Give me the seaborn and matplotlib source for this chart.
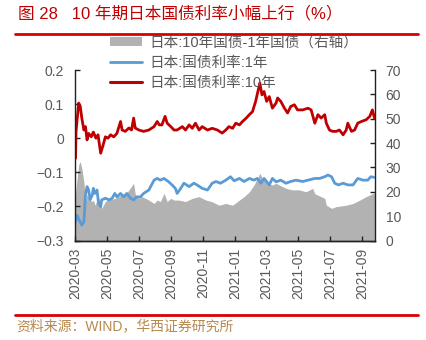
import matplotlib
matplotlib.use("Agg")
import matplotlib.pyplot as plt
import matplotlib.dates as mdates
from matplotlib.patches import Patch
from matplotlib.lines import Line2D
import pandas as pd
import seaborn as sns

# ---------------- data ----------------
title = "图 28   10 年期日本国债利率小幅上行（%）"
source = "资料来源：WIND，华西证券研究所"
labels = ["日本:10年国债-1年国债（右轴）", "日本:国债利率:1年", "日本:国债利率:10年"]

red_dates = ["2020-03-02", "2020-03-03", "2020-03-08", "2020-03-11", "2020-03-14", "2020-03-18",
             "2020-03-21", "2020-03-24", "2020-03-27", "2020-04-01", "2020-04-05", "2020-04-10",
             "2020-04-14", "2020-04-19", "2020-04-23", "2020-04-28", "2020-05-03", "2020-05-08",
             "2020-05-14", "2020-05-20", "2020-05-27", "2020-05-30", "2020-06-05", "2020-06-12",
             "2020-06-17", "2020-06-21", "2020-06-24", "2020-07-01", "2020-07-10", "2020-07-20",
             "2020-07-30", "2020-08-05", "2020-08-09", "2020-08-14", "2020-08-20", "2020-08-24",
             "2020-08-31", "2020-09-06", "2020-09-12", "2020-09-22", "2020-09-28", "2020-10-05",
             "2020-10-11", "2020-10-17", "2020-10-24", "2020-10-30", "2020-11-09", "2020-11-18",
             "2020-11-28", "2020-12-07", "2020-12-14", "2020-12-20", "2020-12-27", "2021-01-02",
             "2021-01-09", "2021-01-15", "2021-01-22", "2021-01-28", "2021-02-03", "2021-02-09",
             "2021-02-17", "2021-02-21", "2021-02-25", "2021-03-02", "2021-03-07", "2021-03-13",
             "2021-03-20", "2021-03-23", "2021-03-29", "2021-04-05", "2021-04-11", "2021-04-17",
             "2021-04-24", "2021-04-30", "2021-05-10", "2021-05-20", "2021-05-26", "2021-06-02",
             "2021-06-08", "2021-06-14", "2021-06-21", "2021-06-24", "2021-06-30", "2021-07-06",
             "2021-07-13", "2021-07-19", "2021-07-26", "2021-08-01", "2021-08-04", "2021-08-11",
             "2021-08-17", "2021-08-23", "2021-08-30", "2021-09-08", "2021-09-15", "2021-09-20",
             "2021-09-24"]
jgb10y = [-0.059, 0.020, 0.103, 0.094, 0.059, 0.024,
          0.034, -0.005, 0.014, 0.004, 0.018, 0.000,
          0.010, -0.044, -0.024, 0.004, 0.000, 0.010,
          0.004, 0.014, 0.049, 0.024, 0.020, 0.030,
          0.024, 0.059, 0.030, 0.024, 0.020, 0.024,
          0.034, 0.049, 0.039, 0.039, 0.064, 0.044,
          0.034, 0.024, 0.024, 0.034, 0.024, 0.039,
          0.029, 0.044, 0.024, 0.034, 0.024, 0.029,
          0.024, 0.015, 0.024, 0.034, 0.029, 0.044,
          0.039, 0.049, 0.059, 0.069, 0.078, 0.108,
          0.162, 0.127, 0.137, 0.108, 0.122, 0.088,
          0.103, 0.118, 0.108, 0.088, 0.074, 0.093,
          0.098, 0.083, 0.083, 0.088, 0.083, 0.044,
          0.069, 0.059, 0.069, 0.044, 0.024, 0.020,
          0.020, 0.024, 0.010, 0.024, 0.044, 0.020,
          0.024, 0.044, 0.049, 0.054, 0.064, 0.083,
          0.059]

blue_dates = ["2020-03-02", "2020-03-05", "2020-03-09", "2020-03-14", "2020-03-18", "2020-03-21",
              "2020-03-24", "2020-03-27", "2020-03-30", "2020-04-03", "2020-04-05", "2020-04-08",
              "2020-04-12", "2020-04-15", "2020-04-19", "2020-04-21", "2020-04-28", "2020-05-05",
              "2020-05-11", "2020-05-16", "2020-05-20", "2020-05-27", "2020-06-02", "2020-06-08",
              "2020-06-15", "2020-06-21", "2020-06-27", "2020-07-04", "2020-07-10", "2020-07-20",
              "2020-07-30", "2020-08-05", "2020-08-11", "2020-08-18", "2020-08-27", "2020-09-03",
              "2020-09-09", "2020-09-12", "2020-09-19", "2020-09-25", "2020-10-05", "2020-10-14",
              "2020-10-20", "2020-10-30", "2020-11-09", "2020-11-18", "2020-11-25", "2020-12-04",
              "2020-12-14", "2020-12-23", "2020-12-30", "2021-01-09", "2021-01-18", "2021-01-28",
              "2021-02-06", "2021-02-12", "2021-02-19", "2021-02-25", "2021-03-07", "2021-03-13",
              "2021-03-20", "2021-03-29", "2021-04-08", "2021-04-17", "2021-04-27", "2021-05-10",
              "2021-05-20", "2021-06-02", "2021-06-11", "2021-06-21", "2021-06-27", "2021-07-04",
              "2021-07-10", "2021-07-17", "2021-07-26", "2021-08-04", "2021-08-14", "2021-08-23",
              "2021-09-02", "2021-09-11", "2021-09-17", "2021-09-24"]
jgb1y = [-0.245, -0.226, -0.240, -0.255, -0.245, -0.167,
         -0.142, -0.152, -0.180, -0.167, -0.147, -0.162,
         -0.152, -0.191, -0.201, -0.181, -0.176, -0.181,
         -0.176, -0.162, -0.172, -0.162, -0.172, -0.162,
         -0.176, -0.181, -0.172, -0.172, -0.162, -0.152,
         -0.123, -0.118, -0.123, -0.118, -0.128, -0.138,
         -0.148, -0.162, -0.147, -0.132, -0.142, -0.132,
         -0.137, -0.147, -0.152, -0.132, -0.127, -0.132,
         -0.123, -0.113, -0.125, -0.118, -0.127, -0.118,
         -0.123, -0.118, -0.132, -0.118, -0.137, -0.118,
         -0.128, -0.123, -0.132, -0.127, -0.123, -0.127,
         -0.123, -0.118, -0.118, -0.113, -0.108, -0.113,
         -0.132, -0.137, -0.132, -0.137, -0.137, -0.118,
         -0.123, -0.123, -0.113, -0.115]

gray_dates = ["2020-03-02", "2020-03-03", "2020-03-08", "2020-03-11", "2020-03-14", "2020-03-18",
              "2020-03-21", "2020-03-24", "2020-03-30", "2020-04-03", "2020-04-05", "2020-04-08",
              "2020-04-15", "2020-04-21", "2020-04-28", "2020-05-05", "2020-05-11", "2020-05-17",
              "2020-05-30", "2020-06-08", "2020-06-21", "2020-06-24", "2020-07-01", "2020-07-07",
              "2020-07-20", "2020-07-30", "2020-08-05", "2020-08-11", "2020-08-18", "2020-08-24",
              "2020-08-31", "2020-09-06", "2020-09-15", "2020-09-28", "2020-10-11", "2020-10-24",
              "2020-11-06", "2020-11-18", "2020-12-01", "2020-12-14", "2020-12-27", "2021-01-09",
              "2021-01-18", "2021-01-28", "2021-02-06", "2021-02-17", "2021-02-22", "2021-03-04",
              "2021-03-13", "2021-03-20", "2021-03-26", "2021-04-08", "2021-04-20", "2021-05-03",
              "2021-05-16", "2021-05-29", "2021-06-02", "2021-06-21", "2021-06-24", "2021-07-04",
              "2021-07-13", "2021-08-01", "2021-08-14", "2021-08-27", "2021-09-08", "2021-09-22",
              "2021-09-24"]
spread_bp = [19.0, 21.4, 31.0, 32.4, 29.6, 24.0,
             16.0, 19.0, 16.6, 16.0, 16.6, 14.5,
             17.8, 13.2, 16.0, 17.0, 17.0, 17.3,
             19.0, 19.5, 23.5, 19.0, 17.3, 18.0,
             16.6, 15.2, 16.6, 16.0, 19.4, 16.0,
             17.3, 16.6, 16.6, 16.0, 17.3, 18.0,
             16.6, 15.9, 14.5, 15.2, 14.5, 16.6,
             18.0, 20.0, 22.8, 27.6, 25.5, 23.5,
             22.8, 23.5, 22.8, 21.4, 20.8, 20.8,
             20.0, 21.4, 19.2, 17.3, 14.5, 13.2,
             13.9, 14.5, 15.2, 16.6, 18.0, 19.4,
             19.0]

left_ticks = [-0.3, -0.2, -0.1, 0.0, 0.1, 0.2]
left_ticklabels = ["\u22120.3", "\u22120.2", "\u22120.1", "0", "0.1", "0.2"]
right_ticks = [0, 10, 20, 30, 40, 50, 60, 70]
x_start, x_end = "2020-03-01", "2021-09-24"

# ---------------- style ----------------
sns.set_style("ticks")
plt.rcParams['font.family'] = ['Liberation Sans', 'Noto Sans CJK SC', 'DejaVu Sans']
plt.rcParams['axes.unicode_minus'] = True

RED = "#C00000"
BLUE = "#5B9BD5"
GRAY = "#B2B2B2"
TXT = "#595959"

fig = plt.figure(figsize=(4.26, 3.40), dpi=100)
ax = fig.add_axes([75 / 426, 1 - 240.5 / 340, 299.5 / 426, 170.5 / 340])
ax2 = ax.twinx()

red_df = pd.DataFrame({"date": pd.to_datetime(red_dates), "v": jgb10y})
blue_df = pd.DataFrame({"date": pd.to_datetime(blue_dates), "v": jgb1y})
gray_df = pd.DataFrame({"date": pd.to_datetime(gray_dates), "v": spread_bp})

ax2.fill_between(gray_df["date"], 0, gray_df["v"], color=GRAY, linewidth=0)
ax.set_zorder(ax2.get_zorder() + 1)
ax.patch.set_visible(False)

sns.lineplot(data=blue_df, x="date", y="v", ax=ax, color=BLUE, linewidth=2.0)
sns.lineplot(data=red_df, x="date", y="v", ax=ax, color=RED, linewidth=2.0)

ax.set_xlim(pd.Timestamp(x_start), pd.Timestamp(x_end))
ax.set_ylim(-0.3, 0.2)
ax2.set_ylim(0, 70)
ax.set_xlabel("")
ax.set_ylabel("")
ax.set_yticks(left_ticks)
ax.set_yticklabels(left_ticklabels)
ax2.set_yticks(right_ticks)
ax2.set_yticklabels([str(t) for t in right_ticks])

ax.xaxis.set_major_locator(mdates.MonthLocator(bymonth=[1, 3, 5, 7, 9, 11]))
ax.xaxis.set_major_formatter(mdates.DateFormatter("%Y-%m"))
for lab in ax.get_xticklabels():
    lab.set_rotation(90)

for a in (ax, ax2):
    a.spines["top"].set_visible(False)
    for s in ("left", "right", "bottom"):
        a.spines[s].set_color("#222222")
        a.spines[s].set_linewidth(1.0)
    a.tick_params(direction="in", length=3.5, width=1.0, colors="#222222",
                  labelcolor=TXT, labelsize=10)
ax.spines["right"].set_visible(False)
ax2.spines["left"].set_visible(False)
ax.tick_params(axis="y", pad=8)
ax2.tick_params(axis="y", pad=8)
ax.tick_params(axis="x", pad=5)

handles = [Patch(facecolor=GRAY, edgecolor="none"),
           Line2D([], [], color=BLUE, linewidth=2.0),
           Line2D([], [], color=RED, linewidth=2.2)]
fig.legend(handles, labels, loc="upper left", bbox_to_anchor=(110 / 426, 1 - 36 / 340),
           frameon=False, fontsize=10.5, labelcolor=TXT, handlelength=2.2, handleheight=0.6,
           labelspacing=0.42, handletextpad=0.5, borderpad=0, borderaxespad=0)

fig.text(18 / 426, 1 - 13 / 340, title, color=RED, fontsize=12, va="center", ha="left")
fig.add_artist(Line2D([15 / 426, 418 / 426], [1 - 33.5 / 340] * 2, color="#D80000",
                      linewidth=2.0, transform=fig.transFigure))
fig.add_artist(Line2D([15 / 426, 418 / 426], [1 - 315 / 340] * 2, color="#D80000",
                      linewidth=2.0, transform=fig.transFigure))
fig.text(16 / 426, 1 - 326 / 340, source, color="#B8884E", fontsize=10, va="center", ha="left")

fig.savefig("out.png", dpi=100)
